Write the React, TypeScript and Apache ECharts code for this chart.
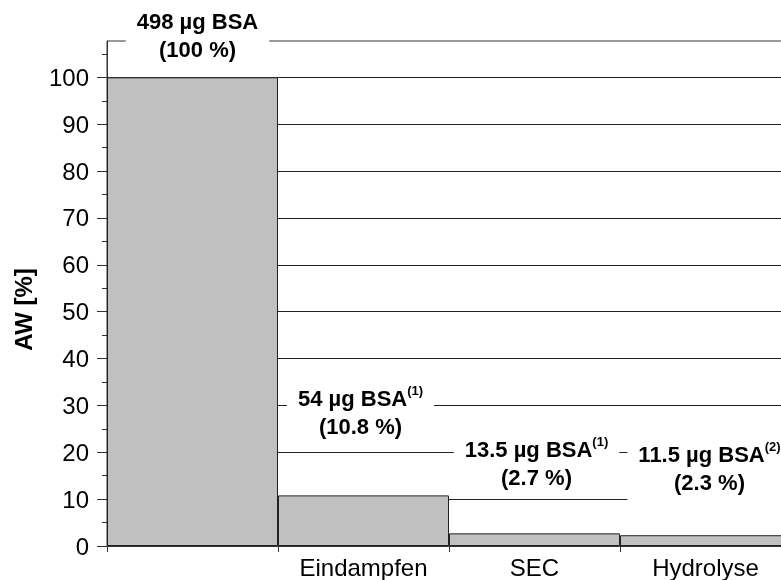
import React, { useEffect, useRef } from "react";
import * as echarts from "echarts";

const categories = ["", "Eindampfen", "SEC", "Hydrolyse"];
const percentValues = [100, 10.8, 2.7, 2.3];
const massLabels = ["498", "54", "13.5", "11.5"];
const footnotes = ["", "(1)", "(1)", "(2)"];
const yTickValues = [0, 10, 20, 30, 40, 50, 60, 70, 80, 90, 100];
const yMinorTickValues = [5, 15, 25, 35, 45, 55, 65, 75, 85, 95, 105];
const yMax = 107.75;

const FONT = "'Liberation Sans', Arial, Helvetica, sans-serif";

export default function App() {
  const ref = useRef<HTMLDivElement>(null);

  useEffect(() => {
    if (!ref.current) return;
    const chart = echarts.init(ref.current, null, { renderer: "svg" });

    const labelDistances = [10, 51, 38, 35];
    const labelOffsets = [5, -3, 2, 4];

    const data = percentValues.map((v, i) => ({
      value: v,
      label: {
        distance: labelDistances[i],
        offset: [labelOffsets[i], 0],
        formatter: () =>
          `{b|${massLabels[i]} µg BSA}` +
          (footnotes[i] ? `{s|${footnotes[i]}}` : "") +
          `\n{b|(${v} %)}`,
      },
    }));

    chart.setOption({
      animation: false,
      textStyle: { fontFamily: FONT },
      grid: {
        left: 107,
        top: 41,
        width: 684,
        height: 505,
        show: true,
        borderColor: "#333",
        borderWidth: 1,
        backgroundColor: "transparent",
        containLabel: false,
        outerBoundsMode: "none",
      },
      xAxis: [
        {
          type: "category",
          data: categories,
          axisLine: { show: true, lineStyle: { color: "#333", width: 1 } },
          axisTick: {
            show: true,
            alignWithLabel: false,
            length: 6,
            lineStyle: { color: "#333" },
          },
          axisLabel: {
            color: "#000",
            fontSize: 24,
            fontFamily: FONT,
            margin: 9,
            interval: 0,
          },
          splitLine: { show: false },
        },
        {
          type: "value",
          min: 0,
          max: 8,
          interval: 1,
          position: "bottom",
          axisLine: { show: false },
          axisTick: {
            show: true,
            inside: true,
            length: 3,
            lineStyle: { color: "#333" },
          },
          axisLabel: { show: false },
          splitLine: { show: false },
        },
      ],
      yAxis: [
        {
          type: "value",
          min: 0,
          max: yMax,
          interval: 10,
          name: "AW [%]",
          nameLocation: "middle",
          nameGap: 72,
          nameRotate: 90,
          nameTextStyle: {
            color: "#000",
            fontSize: 24,
            fontWeight: "bold",
            fontFamily: FONT,
            padding: [0, 32, 0, 0],
          },
          axisLine: { show: true, lineStyle: { color: "#333", width: 1 } },
          axisTick: {
            show: true,
            length: 10,
            customValues: yTickValues,
            lineStyle: { color: "#333" },
          },
          axisLabel: {
            color: "#000",
            fontSize: 24,
            fontFamily: FONT,
            margin: 18,
            customValues: yTickValues,
          },
          splitLine: {
            show: true,
            lineStyle: { color: "#222", width: 1 },
          },
        },
        {
          type: "value",
          min: 0,
          max: yMax,
          interval: 5,
          position: "left",
          axisLine: { show: false },
          axisTick: {
            show: true,
            length: 5,
            customValues: yMinorTickValues,
            lineStyle: { color: "#333" },
          },
          axisLabel: { show: false },
          splitLine: { show: false },
        },
      ],
      series: [
        {
          type: "bar",
          xAxisIndex: 0,
          yAxisIndex: 0,
          data,
          barCategoryGap: "0%",
          barGap: "0%",
          itemStyle: {
            color: "#c0c0c0",
            borderColor: "#222",
            borderWidth: 1,
          },
          label: {
            show: true,
            position: "top",
            align: "center",
            backgroundColor: "#fff",
            padding: [4, 11, 4, 11],
            rich: {
              b: {
                fontSize: 22,
                fontWeight: "bold",
                fontFamily: FONT,
                color: "#000",
                lineHeight: 28,
              },
              s: {
                fontSize: 13,
                fontWeight: "bold",
                fontFamily: FONT,
                color: "#000",
                lineHeight: 13,
                verticalAlign: "top",
              },
            },
          },
        },
      ],
    });

    return () => chart.dispose();
  }, []);

  return (
    <div
      ref={ref}
      style={{ position: "fixed", left: 0, top: 0, width: 781, height: 580 }}
    />
  );
}
